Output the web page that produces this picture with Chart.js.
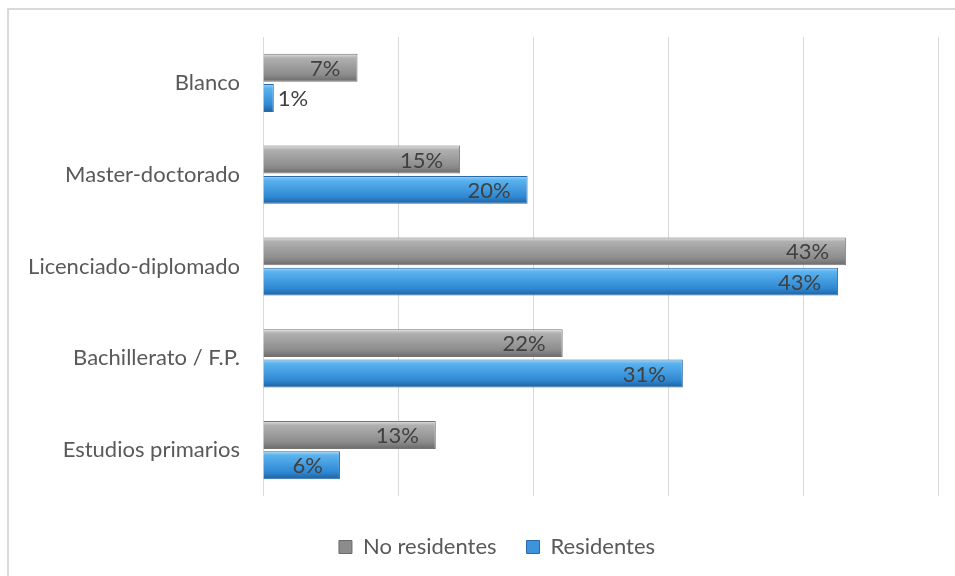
<!DOCTYPE html>
<html>
<head>
<meta charset="utf-8">
<script src="https://cdn.jsdelivr.net/npm/chart.js@4"></script>
<style>
  html, body { margin: 0; padding: 0; background: #fff; overflow: hidden; }
  #marco { position: absolute; left: 7px; top: 8px; width: 1000px; height: 1000px; border: 2px solid #d9d9d9; box-sizing: border-box; }
  #wrap { position: absolute; left: 0; top: 0; width: 955px; height: 576px; }
</style>
</head>
<body>
<div id="marco"></div>
<div id="wrap"><canvas id="chart-1" width="955" height="576"></canvas></div>
<script>
// ================= DATOS =================
const categorias = ["Blanco", "Master-doctorado", "Licenciado-diplomado", "Bachillerato / F.P.", "Estudios primarios"];
const noResidentes = [7.0, 14.6, 43.2, 22.2, 12.8];
const residentes = [0.8, 19.6, 42.6, 31.1, 5.7];
const etiquetasNoRes = ["7%", "15%", "43%", "22%", "13%"];
const etiquetasRes = ["1%", "20%", "43%", "31%", "6%"];

const fuente = "Lato, 'Open Sans', sans-serif";
const catPct = 0.66;
const barPct = 0.92;

// degradado vertical por barra (efecto bisel), posicion sacada de la escala
const degradado = (colores) => (ctx) => {
  const chart = ctx.chart;
  const y = chart.scales.y;
  if (!y || !chart.chartArea || ctx.dataIndex === undefined) return colores[1];
  const paso = (chart.chartArea.bottom - chart.chartArea.top) / categorias.length;
  const grosor = paso * catPct / 2 * barPct;
  const centro = y.getPixelForValue(ctx.dataIndex) + (ctx.datasetIndex === 0 ? -1 : 1) * paso * catPct / 4;
  const g = chart.ctx.createLinearGradient(0, centro - grosor / 2, 0, centro + grosor / 2);
  g.addColorStop(0, colores[0]);
  g.addColorStop(0.15, colores[1]);
  g.addColorStop(0.75, colores[2]);
  g.addColorStop(1, colores[3]);
  return g;
};

// ================= ETIQUETAS =================
const etiquetas = {
  id: "etiquetas",
  afterLayout(chart) {
    // la leyenda del original esta algo desplazada a la derecha
    if (chart.legend) chart.legend.left += 56;
  },
  afterDatasetsDraw(chart) {
    const c = chart.ctx;
    c.save();
    c.font = "22px " + fuente;
    c.fillStyle = "#404040";
    c.textBaseline = "middle";
    [etiquetasNoRes, etiquetasRes].forEach((lista, i) => {
      chart.getDatasetMeta(i).data.forEach((bar, j) => {
        const ancho = bar.x - bar.base;
        if (ancho < 30) {
          c.textAlign = "left";
          c.fillText(lista[j], bar.x + 4, bar.y + 1);
        } else {
          c.textAlign = "right";
          c.fillText(lista[j], bar.x - 17, bar.y + 1);
        }
      });
    });
    c.restore();
  }
};

new Chart(document.getElementById("chart-1"), {
  type: "bar",
  data: {
    labels: categorias,
    datasets: [
      {
        label: "No residentes",
        data: noResidentes,
        backgroundColor: degradado(["#e2e2e2", "#b0b0b0", "#8c8c8c", "#6a6a6a"]),
        borderColor: "#757575",
        borderWidth: 1,
        categoryPercentage: catPct,
        barPercentage: barPct
      },
      {
        label: "Residentes",
        data: residentes,
        backgroundColor: degradado(["#9cd6fb", "#5ab2ee", "#2f88d2", "#1f5f9e"]),
        borderColor: "#2a6aa8",
        borderWidth: 1,
        categoryPercentage: catPct,
        barPercentage: barPct
      }
    ]
  },
  options: {
    indexAxis: "y",
    responsive: false,
    animation: false,
    layout: { padding: { top: 37, right: 17, bottom: 8, left: 0 } },
    scales: {
      x: {
        min: 0,
        max: 50,
        ticks: { display: false, stepSize: 10 },
        grid: { color: "#d9d9d9", lineWidth: 1, drawTicks: false },
        border: { display: false },
        afterFit(scale) { scale.height = 10; }
      },
      y: {
        ticks: { color: "#595959", font: { family: fuente, size: 22 }, padding: 15 },
        grid: { display: false },
        border: { display: false },
        afterFit(scale) { scale.width = 263; }
      }
    },
    plugins: {
      legend: {
        position: "bottom",
        labels: {
          color: "#595959",
          font: { family: fuente, size: 22 },
          boxWidth: 13,
          boxHeight: 13,
          padding: 30,
          generateLabels(chart) {
            const cols = ["#8c8c8c", "#3d93dc"];
            return chart.data.datasets.map((d, i) => ({
              text: d.label,
              fillStyle: cols[i],
              strokeStyle: i ? "#2a6aa8" : "#6a6a6a",
              lineWidth: 1,
              datasetIndex: i,
              fontColor: "#595959"
            }));
          }
        }
      },
      tooltip: { enabled: false }
    }
  },
  plugins: [etiquetas]
});
</script>
</body>
</html>
